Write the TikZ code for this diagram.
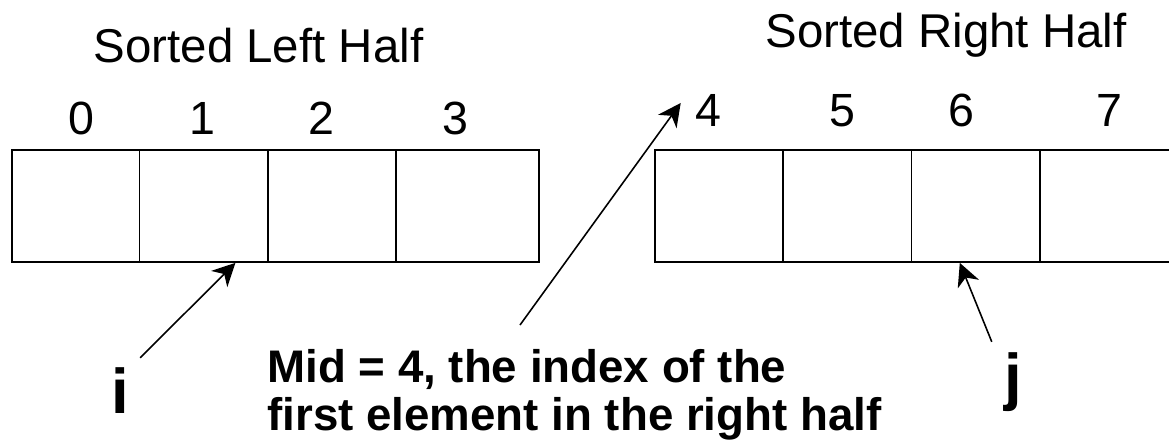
\documentclass[tikz,border=0pt]{standalone}
\usepackage{fontspec}
\setmainfont{Liberation Sans}
\usetikzlibrary{arrows.meta,positioning,fit,calc}

\begin{document}
\begin{tikzpicture}[x=0.02cm,y=-0.02cm,>=Stealth,
  cell/.style={draw,line width=1pt,inner sep=0pt},
  lbl/.style={font=\fontsize{26.5}{31}\selectfont,inner sep=0pt,anchor=base},
  idx/.style={font=\fontsize{36}{40}\selectfont\bfseries,inner sep=0pt,anchor=base},
  note/.style={font=\fontsize{26}{27.2}\selectfont\bfseries,inner sep=0pt,align=left},
  ptr/.style={-{Stealth[length=13pt,width=13pt,inset=4pt]},line width=0.9pt}]
  \useasboundingbox (0,0) rectangle (1169,447);
  \clip (0,0) rectangle (1169,447);
  % the two sorted halves, cell by cell
  \foreach \n/\a/\b in {0/12/139.5,1/139.5/268,2/268/396,3/396/539,
                        4/655/783,5/783/911.6,6/911.6/1040,7/1040/1183}
    \node[cell,fit={(\a,150) (\b,262)}] (c\n) {};
  % indices above the cells
  \foreach \n/\x/\y in {0/81/134,1/202.5/134,2/321/134,3/455/134,
                        4/708/126,5/842/126,6/961/126,7/1109/126}
    \node[lbl] (d\n) at (\x,\y) {\n};
  \node[lbl,font=\fontsize{27}{31}\selectfont] (lefttitle) at (258.5,62) {Sorted Left Half};
  \node[lbl,font=\fontsize{27}{31}\selectfont] (righttitle) at (946,47) {Sorted Right Half};
  % the two scan indices
  \node[idx] (i) at (120,413) {i};
  \node[idx] (j) at (1013.5,398) {j};
  \draw[ptr] ([shift={(11,-9)}]i.north east) -- ($(c1.south west)!0.743!(c1.south east)$);
  \draw[ptr] ([shift={(-12.6,-10)}]j.north west) -- ($(c6.south west)!0.377!(c6.south east)$);
  % the midpoint and its note
  \node[note,anchor=base west] (mid) at (267,430)
    {Mid = 4, the index of the\\first element in the right half};
  \coordinate (midfoot) at (520,325);
  \draw[ptr] (midfoot) -- ([shift={(-14,-7)}]d4.west);
\end{tikzpicture}
\end{document}
